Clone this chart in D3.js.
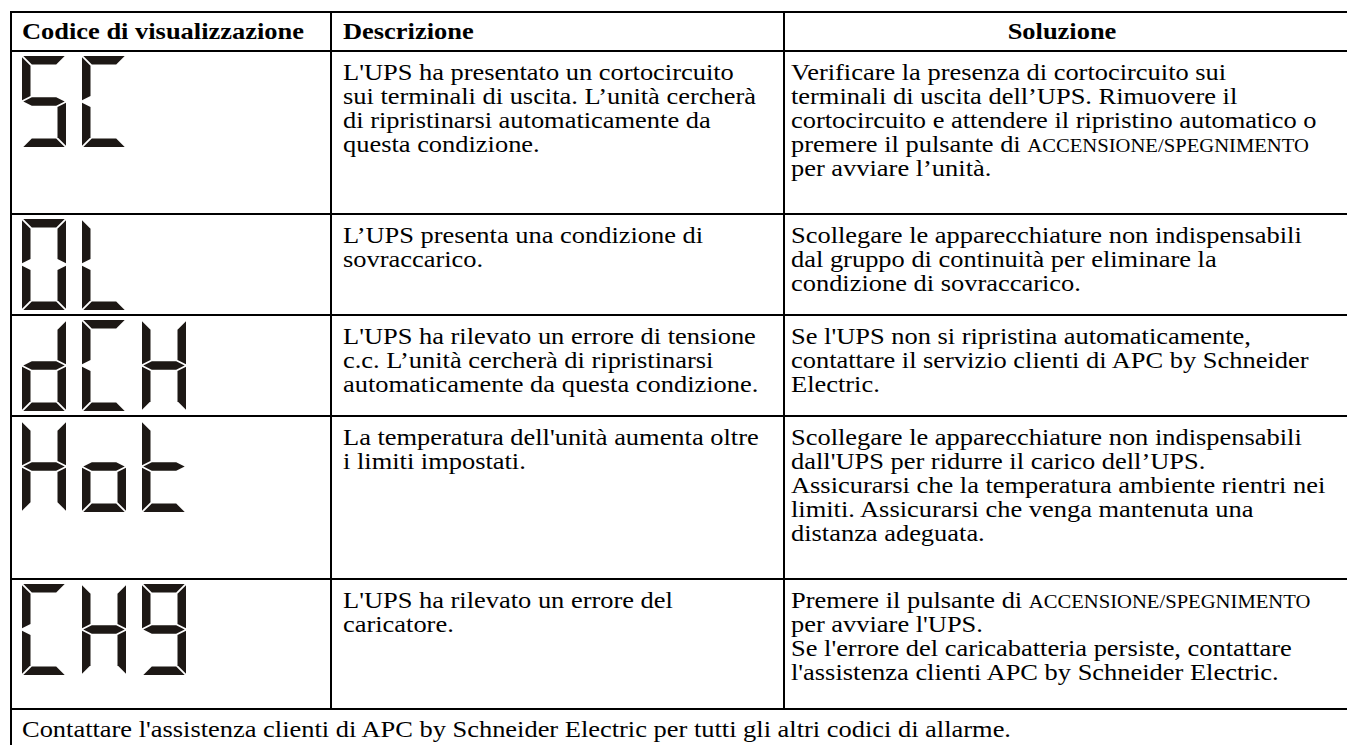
<!DOCTYPE html>
<html><head><meta charset="utf-8">
<script src="https://cdn.jsdelivr.net/npm/d3@7"></script>
<style>body{margin:0;background:#fff}svg{display:block}</style>
</head><body>
<script>
// ---------- data ----------
const headers = ["Codice di visualizzazione", "Descrizione", "Soluzione"];
const codes = ["SC", "OL", "dCH", "Hot", "CH9"];
const descriptions = [
  ["L'UPS ha presentato un cortocircuito", "sui terminali di uscita. L’unità cercherà", "di ripristinarsi automaticamente da", "questa condizione."],
  ["L’UPS presenta una condizione di", "sovraccarico."],
  ["L'UPS ha rilevato un errore di tensione", "c.c. L’unità cercherà di ripristinarsi", "automaticamente da questa condizione."],
  ["La temperatura dell'unità aumenta oltre", "i limiti impostati."],
  ["L'UPS ha rilevato un errore del", "caricatore."]
];
const solutions = [
  ["Verificare la presenza di cortocircuito sui", "terminali di uscita dell’UPS. Rimuovere il", "cortocircuito e attendere il ripristino automatico o", "premere il pulsante di ACCENSIONE/SPEGNIMENTO", "per avviare l’unità."],
  ["Scollegare le apparecchiature non indispensabili", "dal gruppo di continuità per eliminare la", "condizione di sovraccarico."],
  ["Se l'UPS non si ripristina automaticamente,", "contattare il servizio clienti di APC by Schneider", "Electric."],
  ["Scollegare le apparecchiature non indispensabili", "dall'UPS per ridurre il carico dell’UPS.", "Assicurarsi che la temperatura ambiente rientri nei", "limiti. Assicurarsi che venga mantenuta una", "distanza adeguata."],
  ["Premere il pulsante di ACCENSIONE/SPEGNIMENTO", "per avviare l'UPS.", "Se l'errore del caricabatteria persiste, contattare", "l'assistenza clienti APC by Schneider Electric."]
];
const footerText = "Contattare l'assistenza clienti di APC by Schneider Electric per tutti gli altri codici di allarme.";
const segmentMap = { S: "afgcd", C: "adef", O: "abcdef", L: "def", d: "bcdeg", H: "bcefg", o: "cdeg", t: "defg", "9": "abcdfg" };

// ---------- layout ----------
const W = 1347, H = 745;
const X0 = 11, X1 = 331, X2 = 784, XR = 1352;
const TOP = 12, HEAD_H = 39;
const FS = 23, SX = 1.15, LH = 24;
const FONT = "'Liberation Serif','Times New Roman',serif";
const INK = "#1d1815";

const svg = d3.select("body").append("svg").attr("width", W).attr("height", H);
svg.append("rect").attr("width", W).attr("height", H).attr("fill", "#fff");

const lineCounts = codes.map((c, i) => Math.max(descriptions[i].length, solutions[i].length));
const rowHeights = lineCounts.map(n => Math.max(101, 33 * n - 2));
const rowTops = [TOP + HEAD_H, ...d3.cumsum(rowHeights).map(v => v + TOP + HEAD_H)];
const footerTop = rowTops[rowTops.length - 1];
const BOTTOM = footerTop + 42;

const y = d3.scaleOrdinal().domain(codes).range(rowTops.slice(0, codes.length));

function addText(g, str, x, yb, opts = {}) {
  const t = g.append("text")
    .attr("transform", `translate(${x},${yb}) scale(${SX},1)`)
    .attr("font-family", FONT)
    .attr("font-size", FS)
    .attr("font-weight", opts.bold ? "bold" : null)
    .attr("text-anchor", opts.anchor || "start")
    .attr("fill", "#000");
  const parts = str.split(/([A-Z]{4,}\/[A-Z]{4,})/);
  parts.forEach(p => {
    if (!p) return;
    const ts = t.append("tspan").text(p);
    if (/^[A-Z]{4,}\/[A-Z]{4,}$/.test(p)) ts.attr("font-size", FS * 0.78);
  });
  return t;
}

const gh = svg.append("g");
addText(gh, headers[0], 22, TOP + 27, { bold: true });
addText(gh, headers[1], 343, TOP + 27, { bold: true });
addText(gh, headers[2], (X2 + 1340) / 2, TOP + 27, { bold: true, anchor: "middle" });

codes.forEach((code, i) => {
  const top = y(code);
  const g = svg.append("g");
  descriptions[i].forEach((l, k) => addText(g, l, 343, top + 29 + k * LH));
  solutions[i].forEach((l, k) => addText(g, l, 791, top + 29 + k * LH));
  const xs = d3.scaleLinear().domain([0, 1]).range([22, 82]);
  code.split("").forEach((ch, j) => drawDigit(svg, xs(j), top + 5, 44, 91, 8.5, segmentMap[ch]));
});

addText(svg.append("g"), footerText, 22, footerTop + 28);

function drawDigit(parent, x0, y0, w, h, t, segs) {
  const gp = 1.3, ym = y0 + h / 2;
  const P = {
    a: [[x0 + gp, y0], [x0 + w - gp, y0], [x0 + w - t - gp, y0 + t], [x0 + t + gp, y0 + t]],
    d: [[x0 + t + gp, y0 + h - t], [x0 + w - t - gp, y0 + h - t], [x0 + w - gp, y0 + h], [x0 + gp, y0 + h]],
    f: [[x0, y0 + gp], [x0 + t, y0 + t + gp], [x0 + t, ym - t / 2 - gp], [x0, ym - gp]],
    e: [[x0, ym + gp], [x0 + t, ym + t / 2 + gp], [x0 + t, y0 + h - t - gp], [x0, y0 + h - gp]],
    b: [[x0 + w, y0 + gp], [x0 + w, ym - gp], [x0 + w - t, ym - t / 2 - gp], [x0 + w - t, y0 + t + gp]],
    c: [[x0 + w, ym + gp], [x0 + w, y0 + h - gp], [x0 + w - t, y0 + h - t - gp], [x0 + w - t, ym + t / 2 + gp]],
    g: [[x0 + gp, ym], [x0 + t + gp, ym - t / 2], [x0 + w - t - gp, ym - t / 2], [x0 + w - gp, ym], [x0 + w - t - gp, ym + t / 2], [x0 + t + gp, ym + t / 2]]
  };
  parent.append("g").selectAll("path").data(segs.split("")).join("path")
    .attr("d", s => d3.line()(P[s]) + "Z")
    .attr("fill", INK);
}

const grid = svg.append("g").attr("stroke", "#000").attr("stroke-width", 2).attr("fill", "none");
[TOP, ...rowTops].forEach(yy => grid.append("line").attr("x1", X0).attr("x2", XR).attr("y1", yy).attr("y2", yy));
grid.append("line").attr("x1", X0).attr("x2", XR).attr("y1", BOTTOM).attr("y2", BOTTOM);
grid.append("line").attr("x1", X0).attr("x2", X0).attr("y1", TOP - 1).attr("y2", BOTTOM);
grid.append("line").attr("x1", XR).attr("x2", XR).attr("y1", TOP - 1).attr("y2", BOTTOM);
[X1, X2].forEach(xx => grid.append("line").attr("x1", xx).attr("x2", xx).attr("y1", TOP).attr("y2", footerTop));
</script>
</body></html>
